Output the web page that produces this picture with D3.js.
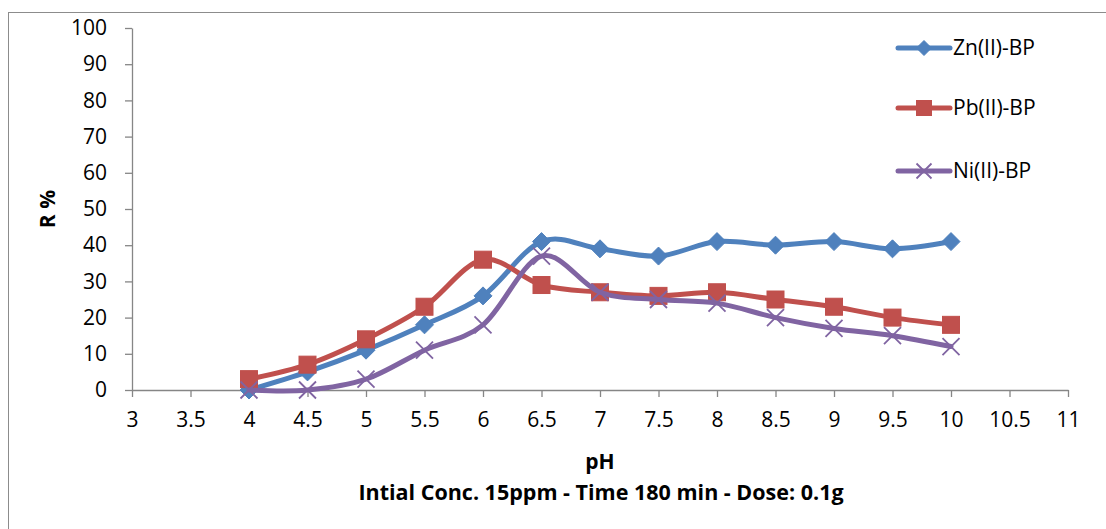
<!DOCTYPE html>
<html>
<head>
<meta charset="utf-8">
<script src="https://cdn.jsdelivr.net/npm/d3@7"></script>
<style>
  html, body { margin: 0; padding: 0; background: #fff; }
  svg { display: block; font-family: "Open Sans", sans-serif; }
</style>
</head>
<body>
<svg id="chart" width="1106" height="529"></svg>
<script>
// pH values tested
const phValues = [4, 4.5, 5, 5.5, 6, 6.5, 7, 7.5, 8, 8.5, 9, 9.5, 10];
// Removal percentage R % for each metal ion
const znValues = [0, 5, 11, 18, 26, 41, 39, 37, 41, 40, 41, 39, 41];
const pbValues = [3, 7, 14, 23, 36, 29, 27, 26, 27, 25, 23, 20, 18];
const niValues = [0, 0, 3, 11, 18, 37, 27, 25, 24, 20, 17, 15, 12];
const seriesNames = ["Zn(II)-BP", "Pb(II)-BP", "Ni(II)-BP"];
const xTicks = [3, 3.5, 4, 4.5, 5, 5.5, 6, 6.5, 7, 7.5, 8, 8.5, 9, 9.5, 10, 10.5, 11];
const yTicks = [0, 10, 20, 30, 40, 50, 60, 70, 80, 90, 100];

const series = [
  { name: seriesNames[0], values: znValues, color: "#4F81BD", marker: "diamond" },
  { name: seriesNames[1], values: pbValues, color: "#C0504D", marker: "square" },
  { name: seriesNames[2], values: niValues, color: "#8064A2", marker: "cross" }
];

const svg = d3.select("#chart");
const axisColor = "#868686";

// chart frame
svg.append("rect")
  .attr("x", 8.5).attr("y", 12.5)
  .attr("width", 1110).attr("height", 530)
  .attr("fill", "none").attr("stroke", "#8c8c8c").attr("stroke-width", 1);

const x = d3.scaleLinear().domain([3, 11]).range([132, 1068]);
const y = d3.scaleLinear().domain([0, 100]).range([390, 28]);

// y axis
const gy = svg.append("g").attr("transform", `translate(${x(3)},0)`)
  .call(d3.axisLeft(y).tickValues(yTicks).tickSize(7).tickPadding(18).tickSizeOuter(0));
// x axis
const gx = svg.append("g").attr("transform", `translate(0,${y(0)})`)
  .call(d3.axisBottom(x).tickValues(xTicks).tickSize(7).tickPadding(15).tickSizeOuter(0)
    .tickFormat(d => String(d)));

[gx, gy].forEach(g => {
  g.select(".domain").attr("stroke", axisColor).attr("stroke-width", 1.3);
  g.selectAll(".tick line").attr("stroke", axisColor).attr("stroke-width", 1.3);
  g.selectAll(".tick text").attr("fill", "#000")
    .style("font-family", "'Open Sans', sans-serif").style("font-size", "21px");
});

// axis titles
svg.append("text")
  .attr("x", 600).attr("y", 469)
  .attr("text-anchor", "middle")
  .style("font-size", "21px").style("font-weight", "bold")
  .text("pH");
svg.append("text")
  .attr("x", 601).attr("y", 500)
  .attr("text-anchor", "middle")
  .style("font-size", "21.5px").style("font-weight", "bold")
  .text("Intial Conc. 15ppm - Time 180 min - Dose: 0.1g");
svg.append("text")
  .attr("transform", "translate(55,209) rotate(-90)")
  .attr("text-anchor", "middle")
  .style("font-size", "21px").style("font-weight", "bold")
  .text("R %");

const line = d3.line()
  .x(d => x(d.ph))
  .y(d => y(d.r))
  .curve(d3.curveCardinal.tension(0));

function drawMarker(g, type, color, cx, cy, size) {
  const h = size / 2;
  if (type === "diamond") {
    g.append("path")
      .attr("d", `M${cx},${cy - h}L${cx + h},${cy}L${cx},${cy + h}L${cx - h},${cy}Z`)
      .attr("fill", color).attr("stroke", color).attr("stroke-width", 1);
  } else if (type === "square") {
    g.append("rect")
      .attr("x", cx - h).attr("y", cy - h)
      .attr("width", size).attr("height", size)
      .attr("fill", color).attr("stroke", color).attr("stroke-width", 1);
  } else {
    g.append("path")
      .attr("d", `M${cx - h},${cy - h}L${cx + h},${cy + h}M${cx - h},${cy + h}L${cx + h},${cy - h}`)
      .attr("fill", "none").attr("stroke", color).attr("stroke-width", 1.8);
  }
}

const plot = svg.append("g");
series.forEach(s => {
  const pts = phValues.map((ph, i) => ({ ph, r: s.values[i] }));
  const g = plot.append("g");
  g.append("path")
    .datum(pts)
    .attr("d", line)
    .attr("fill", "none")
    .attr("stroke", s.color)
    .attr("stroke-width", 5)
    .attr("stroke-linecap", "round")
    .attr("stroke-linejoin", "round");
  pts.forEach(p => drawMarker(g, s.marker, s.color, x(p.ph), y(p.r), s.marker === "diamond" ? 18 : 17));
});

// legend
const legendY = [48, 108, 171];
series.forEach((s, i) => {
  const g = svg.append("g");
  g.append("line")
    .attr("x1", 898).attr("x2", 950)
    .attr("y1", legendY[i]).attr("y2", legendY[i])
    .attr("stroke", s.color).attr("stroke-width", 5).attr("stroke-linecap", "round");
  drawMarker(g, s.marker, s.color, 924, legendY[i], 15);
  g.append("text")
    .attr("x", 953).attr("y", legendY[i])
    .attr("dy", "0.35em")
    .style("font-size", "21px")
    .text(s.name);
});
</script>
</body>
</html>
